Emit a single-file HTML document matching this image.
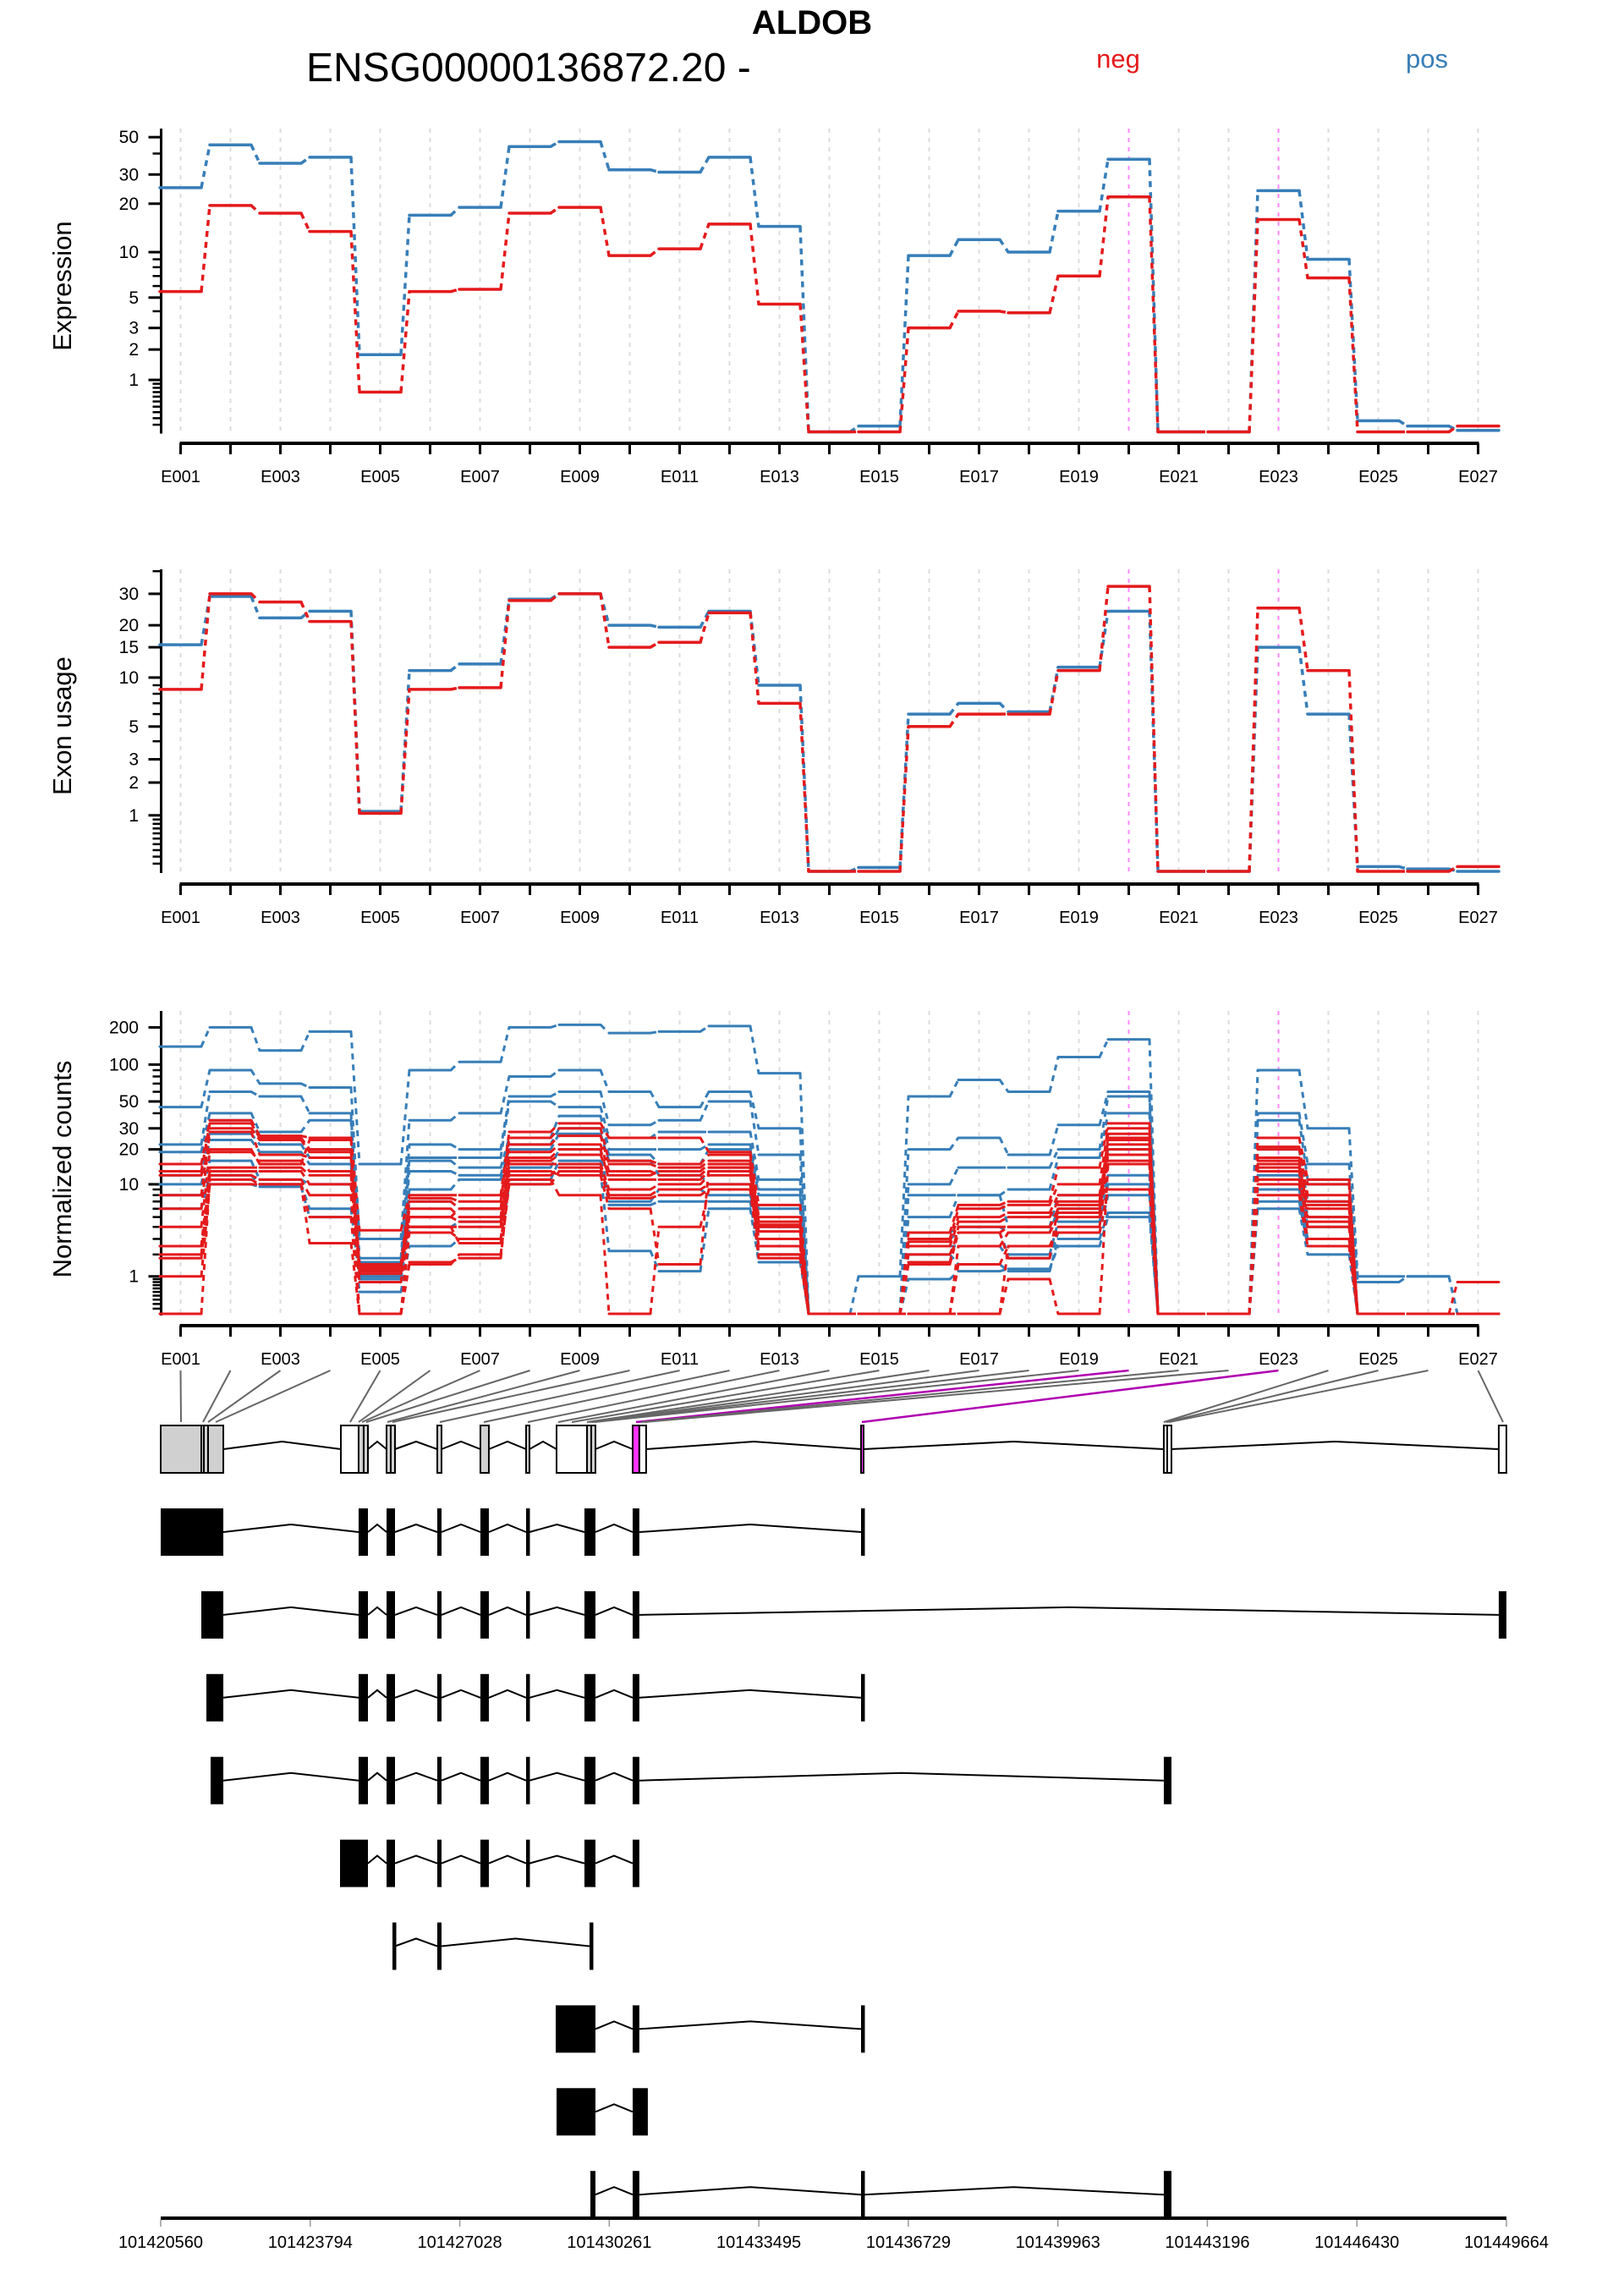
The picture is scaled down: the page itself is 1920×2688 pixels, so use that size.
<!DOCTYPE html>
<html><head><meta charset="utf-8"><title>ALDOB DEXSeq</title>
<style>
html,body{margin:0;padding:0;background:#fff}
svg{display:block;font-family:"Liberation Sans",Arial,sans-serif}
</style></head>
<body>
<svg id="chart" xmlns="http://www.w3.org/2000/svg" width="1920" height="2688" viewBox="0 0 1920 2688">
<text x="960" y="40" text-anchor="middle" font-size="40" font-weight="bold">ALDOB</text>
<text x="362" y="96" font-size="48">ENSG00000136872.20 -</text>
<text x="1322" y="80" text-anchor="middle" font-size="31" fill="#e41a1c">neg</text>
<text x="1687" y="80" text-anchor="middle" font-size="31" fill="#377eb8">pos</text>
<g id="p1"></g>
<g id="p2"></g>
<g id="p3"></g>
<g id="links"></g>
<g id="model"></g>
</svg>
<script>
const categories=['E001','E002','E003','E004','E005','E006','E007','E008','E009','E010','E011','E012','E013','E014','E015','E016','E017','E018','E019','E020','E021','E022','E023','E024','E025','E026','E027'];
const sigExons=['E020','E023'];
const exprPos=[25,45,35,38,1.8,17,19,44,47,32,31,38,14.5,0,0.08,9.5,12,10,18,37,0,0,24,9,0.16,0.08,0.02];
const exprNeg=[5.5,19.5,17.5,13.5,0.7,5.5,5.7,17.5,19,9.5,10.5,15,4.5,0,0,3,4,3.9,7,22,0,0,16,6.8,0,0,0.08];
const usagePos=[15.5,29,22,24,1.1,11,12,28,30,20,19.5,24,9,0,0.05,6,7,6.2,11.5,24,0,0,15,6,0.06,0.03,0];
const usageNeg=[8.5,30,27,21,1.05,8.5,8.7,27.5,30,15,16,23.5,7,0,0,5,6,6,11,33,0,0,25,11,0,0,0.06];
const countsPos=[
[140,200,130,185,15,90,105,200,210,180,185,205,85,0,1,55,75,60,115,160,0,0,90,30,1,1,0],
[45,90,70,65,3,35,40,80,90,60,45,60,30,0,0,20,25,18,32,60,0,0,40,15,0.8,1,0],
[22,60,55,40,1.8,22,20,55,60,32,35,50,18,0,0,10,14,14,20,55,0,0,35,11,0,0,0],
[19,40,28,35,1,17,17,50,45,25,28,28,11,0,0,8,8,9,17,40,0,0,25,10,0,0,0],
[15,35,25,20,3,16,14,25,38,20,20,22,9,0,0,5,8,4,8,20,0,0,20,7,0,0,0],
[12,27,22,17,1.6,13,12,22,30,18,15,20,8,0,0,3.5,4,3.5,6,12,0,0,15,5,0,0,0],
[10,24,19,15,1.2,9,11,20,27,16,12,10,6,0,0,3,3.5,2,4.5,10,0,0,12,4,0,0,0],
[8,16,11,10,1,7,6,14,20,7,9,8,4,0,0,2.5,2.5,1.8,3.5,8,0,0,9,3,0,0,0],
[6,12,10,6,0.9,4,4.5,11,16,6.5,7,7,2,0,0,2,1.5,1.2,3,5.5,0,0,7,2.5,0,0,0],
[2.5,10,9.5,5,0.5,2.5,3,10,13,2.2,1.2,6,1.6,0,0,0.9,1.2,1.3,2.5,5,0,0,6,2,0,0,0]];
const countsNeg=[
[15,35,26,25,3.7,8,8,28,33,25,25,19,6.5,0,0,3.5,6.5,7,14,33,0,0,25,11,0,0,0.8],
[13,33,25,20,1.5,7.5,7,25,30,16,15,18,5,0,0,3,6,6.5,10,30,0,0,20,10,0,0,0],
[8,30,24,19,1.3,7,6,22,26,15,14,16,4.5,0,0,2.8,5,5.5,8,27,0,0,17,7,0,0,0],
[6,28,18,17,1.2,6,5,19,22,13,12,14,4,0,0,2.5,4.5,5,7,25,0,0,16,6.5,0,0,0],
[4,19,16,13,1.1,5,4.5,17,20,11,11,13,3.6,0,0,1.6,4,4,6,22,0,0,15,6,0,0,0],
[2.5,14,14,12,0.8,4,4,15,15,9,10,12,3,0,0,1.5,3.5,4,5.5,20,0,0,13,5,0,0,0],
[2,13,13,10,0,3.5,3,12,14,8,9,10,2.5,0,0,0,2.5,3.5,5,18,0,0,11,4,0,0,0],
[1.8,12,11,8,0,1.5,2,10,13,7.5,8,9,2,0,0,0,1.5,2.5,4,16,0,0,10,3,0,0,0],
[1,10,10,5,0,1.6,1.8,11,8,0,4,9,1.8,0,0,0,0,2.5,3.5,9,0,0,8,2.5,0,0,0],
[0,11,10,2.7,0,4,2.7,13,12,6,1.5,14,2,0,0,0,0,0.9,0,15,0,0,14,4.5,0,0,0],
[12,20,15,24,1.4,5,6,16,18,12,13,15,4.2,0,0,2,3.5,1.8,6.5,24,0,0,21,8,0,0,0]];
const ticks1=[1,2,3,5,10,20,30,50];
const ticks2=[1,2,3,5,10,15,20,30];
const ticks3=[1,10,20,30,50,100,200];
const genomeTicks=[101420560,101423794,101427028,101430261,101433495,101436729,101439963,101443196,101446430,101449664];
const aggExons=[[0,1.354,'#d0d0d0'],[3.896,4.280,'#fff'],[4.280,4.390,'#d0d0d0'],[4.390,4.482,'#d0d0d0'],[4.884,5.067,'#d0d0d0'],[5.981,6.073,'#d0d0d0'],[6.914,7.097,'#d0d0d0'],[7.902,7.975,'#d0d0d0'],[8.561,9.219,'#fff'],[9.219,9.402,'#d0d0d0'],[10.207,10.351,'#ff33ff'],[10.351,10.498,'#fff'],[15.146,15.201,'#ff33ff'],[21.694,21.859,'#fff'],[28.938,29.103,'#fff']];
const aggLines=[0.878,0.933,1.024,4.975,9.311,21.767];
const exonTargets=[0.439,0.915,1.024,1.189,4.097,4.280,4.353,4.445,4.902,5.012,6.036,6.988,7.939,8.597,8.890,9.219,9.274,9.329,9.384,10.280,10.390,10.463,15.164,21.694,21.749,21.804,29.030];
const mid=[[4.280,4.482],[4.884,5.067],[5.981,6.073],[6.914,7.097],[7.902,7.975],[9.164,9.402],[10.207,10.351]];
const transcripts=[
[[0,1.354]].concat(mid,[[15.146,15.201]]),
[[0.878,1.354]].concat(mid,[[28.938,29.103]]),
[[0.988,1.354]].concat(mid,[[15.146,15.201]]),
[[1.079,1.354]].concat(mid,[[21.694,21.859]]),
[[3.878,4.482],[4.884,5.067],[5.981,6.073],[6.914,7.097],[7.902,7.975],[9.164,9.402],[10.207,10.351]],
[[5.012,5.067],[5.981,6.073],[9.274,9.329]],
[[8.543,9.402],[10.207,10.351],[15.146,15.201]],
[[8.561,9.402],[10.207,10.535]],
[[9.292,9.402],[10.207,10.351],[15.146,15.201],[21.694,21.859]]];

const NS='http://www.w3.org/2000/svg';
function el(parent,tag,attrs,text){const e=document.createElementNS(NS,tag);for(const k in attrs)e.setAttribute(k,attrs[k]);if(text!==undefined)e.textContent=text;parent.appendChild(e);return e;}
const RED='#e41a1c',BLUE='#377eb8';
const X0=213.5,DX=59,AX=190.5;
function xE(i){return X0+i*DX;}
function mkY(zero,perDec){return v=>zero-perDec*Math.log10(v+1);}

function panel(gid,yf,top,bottom,axisY,ticks,maxV,title,titleY,series){
  const g=document.getElementById(gid);
  categories.forEach((c,i)=>{
    const sig=sigExons.indexOf(c)>=0;
    const l=el(g,'line',{x1:xE(i),x2:xE(i),y1:top,y2:bottom+4,stroke:sig?'#ff88ff':'#dcdcdc','stroke-width':2,'stroke-dasharray':'5 6'});
    
    
  });
  const ya=el(g,'line',{x1:AX,x2:AX,y1:top,y2:bottom+2,stroke:'#000','stroke-width':3});
  
  
  [0.1,1,10,100].forEach(d=>{for(let k=1;k<=9;k++){const v=k*d;if(v>maxV)continue;
    const t=el(g,'line',{x1:AX-10,x2:AX,y1:yf(v),y2:yf(v),stroke:'#000','stroke-width':2.5});
    
    }});
  ticks.forEach(v=>{
    const t=el(g,'line',{x1:AX-15,x2:AX,y1:yf(v),y2:yf(v),stroke:'#000','stroke-width':3});
    
    
    const lb=el(g,'text',{x:164,y:yf(v)+7,'text-anchor':'end','font-size':21},String(v));
    
    
  });
  const tt=el(g,'text',{x:0,y:0,'text-anchor':'middle','font-size':31,transform:'translate(84,'+titleY+') rotate(-90)'},title);
  
  
  const xa=el(g,'line',{x1:xE(0)-1,x2:xE(26)+1,y1:axisY,y2:axisY,stroke:'#000','stroke-width':4});
  
  
  categories.forEach((c,i)=>{
    const t=el(g,'line',{x1:xE(i),x2:xE(i),y1:axisY,y2:axisY+13,stroke:'#000','stroke-width':3});
    
    
    if(i%2===0){const lb=el(g,'text',{x:xE(i),y:axisY+46,'text-anchor':'middle','font-size':20},c);
      
      }
  });
  series.forEach(s=>{
    const sg=el(g,'g',{});
    
    
    s.vals.forEach((v,i)=>{
      const y=yf(v);
      const seg=el(sg,'line',{x1:xE(i)-24.5,x2:xE(i)+24.5,y1:y,y2:y,stroke:s.color,'stroke-width':s.w,'stroke-linecap':'round'});
      
      
      if(i<s.vals.length-1){
        const c=el(sg,'line',{x1:xE(i)+24.5,y1:y,x2:xE(i+1)-24.5,y2:yf(s.vals[i+1]),stroke:s.color,'stroke-width':s.w,'stroke-dasharray':'7 6'});
        
        
      }
    });
  });
}
const y1=mkY(510.5,204),y2=mkY(1030,220),y3=mkY(1553,147);
panel('p1',y1,152,y1(0),524,ticks1,50,'Expression',338,[{name:'pos-expression',vals:exprPos,color:BLUE,w:3.5},{name:'neg-expression',vals:exprNeg,color:RED,w:3.5}]);
panel('p2',y2,673,y2(0),1045,ticks2,40,'Exon usage',858,[{name:'pos-usage',vals:usagePos,color:BLUE,w:3.5},{name:'neg-usage',vals:usageNeg,color:RED,w:3.5}]);
const s3=[];
countsPos.forEach((v,k)=>s3.push({name:'pos-sample-'+(k+1),vals:v,color:BLUE,w:3}));
countsNeg.forEach((v,k)=>s3.push({name:'neg-sample-'+(k+1),vals:v,color:RED,w:3}));
panel('p3',y3,1195,y3(0),1567,ticks3,200,'Normalized counts',1382,s3);

const G0=genomeTicks[0],GSPAN=genomeTicks[genomeTicks.length-1]-G0,GX0=190,GX1=1781;
function gx(kb){return GX0+(kb*1000)/GSPAN*(GX1-GX0);}
const links=document.getElementById('links');
exonTargets.forEach((kb,i)=>{
  const sig=sigExons.indexOf(categories[i])>=0;
  const l=el(links,'line',{x1:xE(i),y1:1620,x2:gx(kb),y2:1681,stroke:sig?'#b000b0':'#666','stroke-width':sig?2.5:2});
  
  
});
const model=document.getElementById('model');
function introns(g,ex,cy){
  for(let i=0;i<ex.length-1;i++){
    const a=gx(ex[i][1]),b=gx(ex[i+1][0]);
    if(b-a<1)continue;
    el(g,'polyline',{points:a+','+cy+' '+(a+b)/2+','+(cy-9)+' '+b+','+cy,fill:'none',stroke:'#000','stroke-width':2});
  }
}
const ag=el(model,'g',{});


introns(ag,aggExons.map(e=>[e[0],e[1]]),1713);
aggExons.forEach(e=>{
  const x=gx(e[0]),w=Math.max(gx(e[1])-x,3);
  const r=el(ag,'rect',{x:x,y:1685,width:w,height:56,fill:e[2],stroke:'#000','stroke-width':2});
  
  
});
aggLines.forEach(kb=>el(ag,'line',{x1:gx(kb),x2:gx(kb),y1:1685,y2:1741,stroke:'#000','stroke-width':2}));
transcripts.forEach((ex,k)=>{
  const cy=1811+k*97.9;
  const tg=el(model,'g',{});
  
  
  introns(tg,ex,cy);
  ex.forEach(e=>{
    const x=gx(e[0]),w=Math.max(gx(e[1])-x,4.5);
    const r=el(tg,'rect',{x:x,y:cy-28,width:w,height:56,fill:'#000'});
    
    
  });
});
const ga=el(model,'line',{x1:GX0,x2:GX1,y1:2622,y2:2622,stroke:'#000','stroke-width':4});


genomeTicks.forEach(t=>{
  const x=GX0+(t-G0)/GSPAN*(GX1-GX0);
  el(model,'line',{x1:x,x2:x,y1:2624,y2:2632,stroke:'#999','stroke-width':1.5});
  const lb=el(model,'text',{x:x,y:2657,'text-anchor':'middle','font-size':20},String(t));
  
  
});
</script>
</body></html>
